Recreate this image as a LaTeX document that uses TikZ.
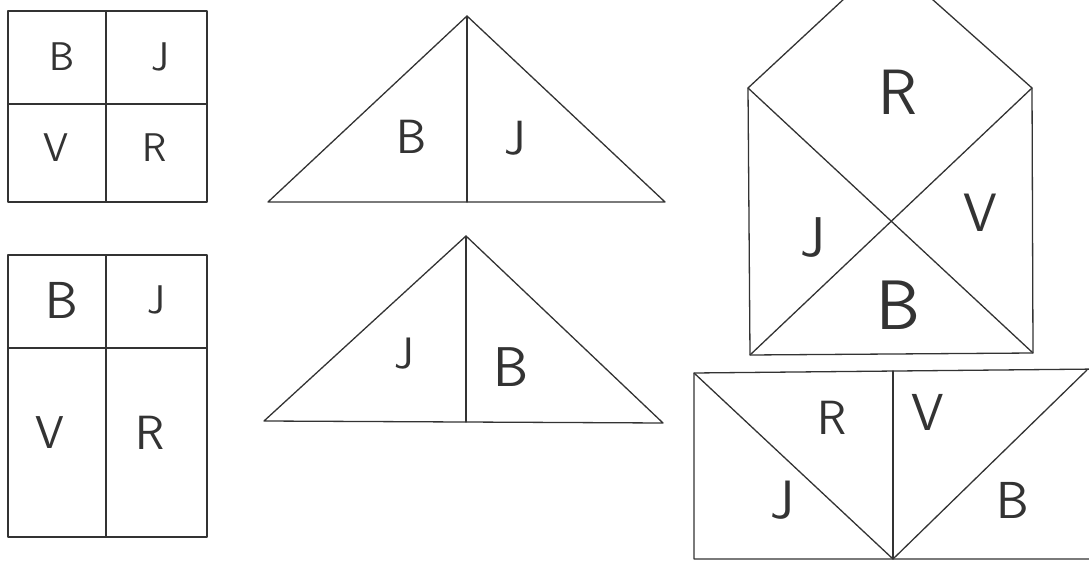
\documentclass[tikz,border=0pt]{standalone}
\usepackage{tikz}
\tikzset{
  ln/.style={line width=1.3pt, draw=black!80, line join=round, line cap=round},
  lab/.style={font=\fontsize{#1}{#1}\selectfont\sffamily, text=black!80, inner sep=0pt}
}
\begin{document}
\begin{tikzpicture}[x=1pt,y=-1pt]
\useasboundingbox (0,0) rectangle (1089,561);
\clip (0,0) rectangle (1089,561);
% top-left square
\coordinate (a1) at (8,11); \coordinate (a2) at (207,11);
\coordinate (a3) at (207,202); \coordinate (a4) at (8,202);
\draw[ln] (a1) -- (a2) -- (a3) -- (a4) -- cycle;
\draw[ln] (106,11) -- (106,202);
\draw[ln] (8,104) -- (207,104);
\node[lab=40] (aB) at (62,57) {B};
\node[lab=40] (aJ) at (160,57) {J};
\node[lab=40] (aV) at (56,148) {V};
\node[lab=40] (aR) at (155,148) {R};
% bottom-left rectangle
\coordinate (b1) at (8,255); \coordinate (b2) at (207,255);
\coordinate (b3) at (207,537); \coordinate (b4) at (8,537);
\draw[ln] (b1) -- (b2) -- (b3) -- (b4) -- cycle;
\draw[ln] (106,255) -- (106,537);
\draw[ln] (8,348) -- (207,348);
\node[lab=52] (bB) at (62,300) {B};
\node[lab=40] (bJ) at (156,300) {J};
\node[lab=46] (bV) at (50,433) {V};
\node[lab=48] (bR) at (150,433) {R};
% top triangle
\coordinate (t1) at (268,202); \coordinate (t2) at (665,202); \coordinate (t3) at (467,16);
\coordinate (t4) at (467,202);
\draw[ln] (t1) -- (t2) -- (t3) -- cycle;
\draw[ln] (t3) -- (t4);
\node[lab=48] (tB) at (412,137) {B};
\node[lab=48] (tJ) at (515,138) {J};
% bottom triangle
\coordinate (u1) at (264,421); \coordinate (u2) at (663,423); \coordinate (u3) at (466,236);
\coordinate (u4) at (466,422);
\draw[ln] (u1) -- (u2) -- (u3) -- cycle;
\draw[ln] (u3) -- (u4);
\node[lab=44] (uJ) at (404,354) {J};
\node[lab=56] (uB) at (511,367) {B};
% envelope
\coordinate (e1) at (748,88); \coordinate (e2) at (1032,88);
\coordinate (e3) at (1033,353); \coordinate (e4) at (750,355);
\coordinate (eA) at (887,-41);
\draw[ln] (e1) -- (e4) -- (e3) -- (e2);
\draw[ln] (e1) -- (eA) -- (e2);
\draw[ln] (e1) -- (e3);
\draw[ln] (e2) -- (e4);
\node[lab=64] (eR) at (898,92) {R};
\node[lab=56] (eJ) at (813,238) {J};
\node[lab=54] (eV) at (980,213) {V};
\node[lab=70] (eB) at (898,305) {B};
% bottom-right rectangle
\coordinate (r1) at (694,373); \coordinate (r2) at (1100,369);
\coordinate (r3) at (1100,559); \coordinate (r4) at (694,559);
\coordinate (rm) at (893,559); \coordinate (rt) at (893,371);
\coordinate (rd) at (1087,370);
\draw[ln] (r2) -- (r1) -- (r4) -- (r3);
\draw[ln] (rt) -- (rm);
\draw[ln] (r1) -- (rm) -- (rd);
\node[lab=48] (rR) at (832,418) {R};
\node[lab=52] (rV) at (928,412) {V};
\node[lab=54] (rJ) at (782,500) {J};
\node[lab=52] (rB) at (1013,500) {B};
\end{tikzpicture}
\end{document}
